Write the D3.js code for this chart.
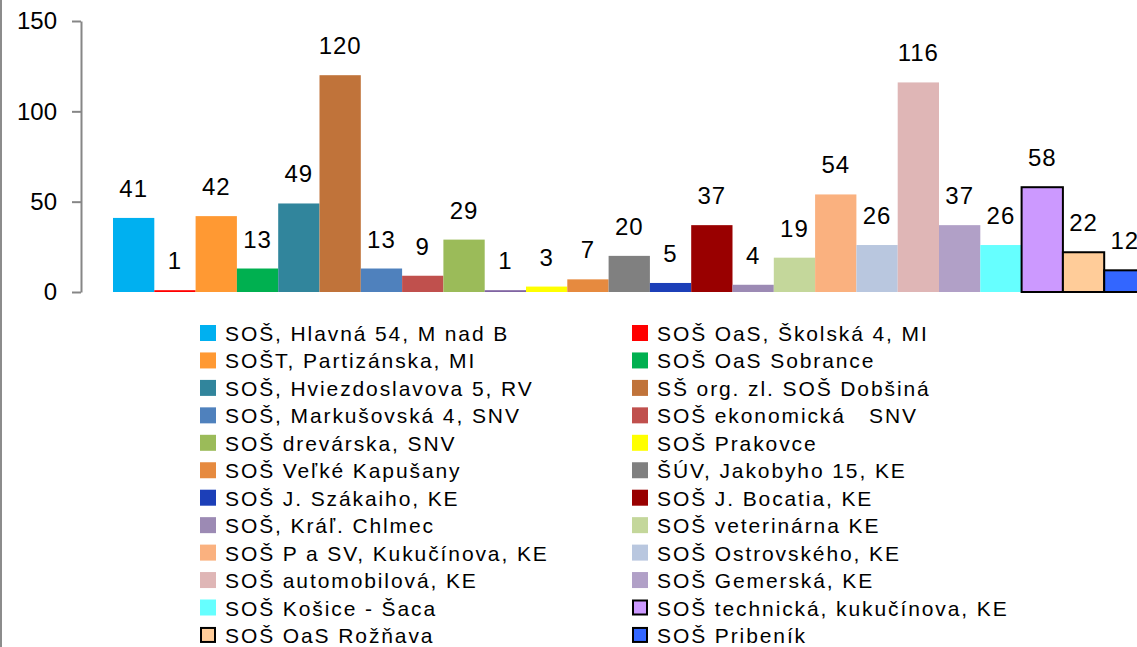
<!DOCTYPE html>
<html>
<head>
<meta charset="utf-8">
<script src="https://cdn.jsdelivr.net/npm/d3@7"></script>
<style>
  body { margin: 0; background: #fff; }
  svg { display: block; font-family: "Liberation Sans", Arial, sans-serif; }
</style>
</head>
<body>
<div id="chart"></div>
<script>
// Data
var schools = [
  "SOŠ, Hlavná 54, M nad B", "SOŠ OaS, Školská 4, MI", "SOŠT, Partizánska, MI",
  "SOŠ OaS Sobrance", "SOŠ, Hviezdoslavova 5, RV", "SŠ org. zl. SOŠ Dobšiná",
  "SOŠ, Markušovská 4, SNV", "SOŠ ekonomická   SNV", "SOŠ drevárska, SNV",
  "", "SOŠ Prakovce", "SOŠ Veľké Kapušany", "ŠÚV, Jakobyho 15, KE",
  "SOŠ J. Szákaiho, KE", "SOŠ J. Bocatia, KE", "SOŠ, Kráľ. Chlmec",
  "SOŠ veterinárna KE", "SOŠ P a SV, Kukučínova, KE", "SOŠ Ostrovského, KE",
  "SOŠ automobilová, KE", "SOŠ Gemerská, KE", "SOŠ Košice - Šaca",
  "SOŠ technická, kukučínova, KE", "SOŠ OaS Rožňava", "SOŠ Pribeník"
];
var counts = [41, 1, 42, 13, 49, 120, 13, 9, 29, 1, 3, 7, 20, 5, 37, 4, 19, 54, 26, 116, 37, 26, 58, 22, 12];
var colors = [
  "#00b0f0", "#ff0000", "#ff9933", "#00b050", "#31859c", "#c0733a",
  "#4f81bd", "#c0504d", "#9bbb59", "#8064a2", "#ffff00", "#e68a3f",
  "#808080", "#1c3fb8", "#990000", "#9c8ab4", "#c4d79b", "#fab17f",
  "#b9c7df", "#dfb6b6", "#b1a0c7", "#66ffff", "#cc99ff", "#ffcc99", "#3366ff"
];
var outlined = [22, 23, 24];
var yTicks = [0, 50, 100, 150];

var svgWidth = 1137;
var svgHeight = 647;

var svg = d3.select("#chart")
  .append("svg")
  .attr("width", svgWidth)
  .attr("height", svgHeight);

var data = schools.map(function(name, i) {
  return { name: name, value: counts[i], color: colors[i], idx: i, border: outlined.indexOf(i) >= 0 };
});

// Scales
var xScale = d3.scaleBand()
  .domain(d3.range(data.length))
  .range([113, 113 + 41.3 * data.length])
  .padding(0);

var yScale = d3.scaleLinear()
  .domain([0, 150])
  .range([292, 21]);

// Left chart border
svg.append("line")
  .attr("x1", 1).attr("x2", 1)
  .attr("y1", 0).attr("y2", svgHeight)
  .attr("stroke", "#8c8c8c")
  .attr("stroke-width", 2);

// Y axis
var leftAxis = d3.axisLeft(yScale)
  .tickValues(yTicks)
  .tickSize(9)
  .tickPadding(15)
  .tickSizeOuter(0);

var axisG = svg.append("g")
  .attr("transform", "translate(81, 0)")
  .call(leftAxis);

axisG.select(".domain").attr("stroke", "#868686").attr("stroke-width", 2);
axisG.selectAll(".tick line").attr("stroke", "#868686").attr("stroke-width", 2);
axisG.selectAll(".tick text")
  .attr("fill", "#000")
  .style("font-size", "24px")
  .style("font-family", "Liberation Sans, Arial, sans-serif");

// Bars
svg.append("g").selectAll("rect")
  .data(data)
  .enter()
  .append("rect")
  .attr("x", d => xScale(d.idx))
  .attr("y", d => yScale(d.value))
  .attr("width", xScale.bandwidth())
  .attr("height", d => yScale(0) - yScale(d.value))
  .attr("fill", d => d.color)
  .attr("stroke", d => d.border ? "#000" : "none")
  .attr("stroke-width", 2);

// Value labels
svg.append("g").selectAll("text")
  .data(data)
  .enter()
  .append("text")
  .text(d => d.value)
  .attr("x", d => xScale(d.idx) + xScale.bandwidth() / 2)
  .attr("y", d => yScale(d.value) - 21)
  .attr("text-anchor", "middle")
  .style("font-size", "24px")
  .style("letter-spacing", "1px")
  .attr("fill", "#000");

// Legend (two columns, row-wise)
var legendData = data.filter(d => d.name !== "");
var legend = svg.append("g");
var items = legend.selectAll("g")
  .data(legendData)
  .enter()
  .append("g")
  .attr("transform", function(d, i) {
    var col = i % 2;
    var row = Math.floor(i / 2);
    return "translate(" + (col === 0 ? 200 : 632) + "," + (333 + row * 27.45) + ")";
  });

items.append("rect")
  .attr("x", d => d.border ? 1 : 0)
  .attr("y", d => d.border ? -7 : -8)
  .attr("width", d => d.border ? 14 : 16)
  .attr("height", d => d.border ? 14 : 16)
  .attr("fill", d => d.color)
  .attr("stroke", d => d.border ? "#000" : "none")
  .attr("stroke-width", 2);

items.append("text")
  .text(d => d.name)
  .attr("x", 25)
  .attr("y", 8)
  .style("font-size", "21px")
  .style("letter-spacing", "1.9px")
  .style("white-space", "pre")
  .attr("fill", "#000");
</script>
</body>
</html>
